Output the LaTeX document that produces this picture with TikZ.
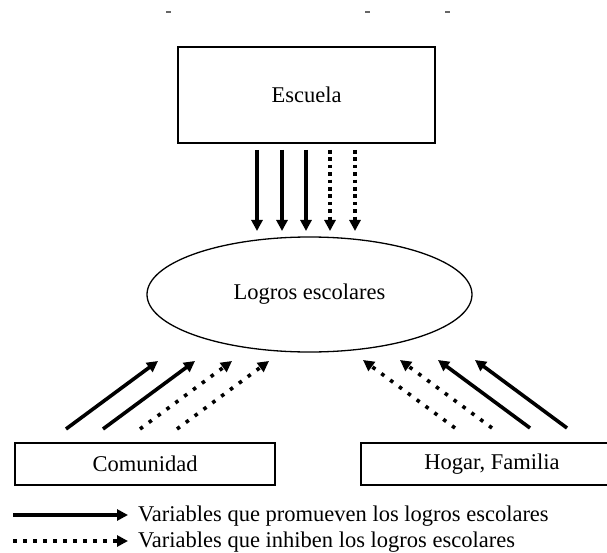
\documentclass[tikz,border=0pt]{standalone}
\usepackage{fontspec}
\setmainfont{Liberation Serif}
\usetikzlibrary{arrows.meta,shapes.geometric}
\tikzset{
  x=1pt,y=-1pt,
  txt/.style={font=\fontsize{22.5}{24}\selectfont},
  box/.style={draw,line width=1.5pt,inner sep=0pt,txt},
  head/.style={-{Triangle[length=11pt,width=11pt]}},
  promo/.style={line width=3.6pt,head},
  inhibv/.style={line width=3.6pt,dash pattern=on 3.6pt off 3.8pt,head},
  inhibd/.style={line width=3.6pt,dash pattern=on 3.6pt off 7.4pt,head},
  lbl/.style={txt,anchor=base west,inner sep=0pt},
  tick/.style={line width=1.6pt,black!60}
}
\begin{document}
\begin{tikzpicture}
\useasboundingbox (0,0) rectangle (607,553);
% remnants at top
\draw[tick] (166,12) -- (171,12);
\draw[tick] (365,12) -- (370,12);
\draw[tick] (445,12) -- (450,12);
% nodes
\node[box,minimum width=257pt,minimum height=96pt] (esc) at (306.5,95) {Escuela};
\node[draw,ellipse,line width=1.3pt,minimum width=325pt,minimum height=115pt,inner sep=0pt,txt] (log) at (309.5,294.5) {Logros escolares};
\node[box,minimum width=260pt,minimum height=42pt] (com) at (145,464) {Comunidad};
\node[box,minimum width=270pt,minimum height=42pt,anchor=west] (hog) at (360,464) {};
\node[txt,inner sep=0pt] (hogt) at (492,464) {Hogar, Familia};
% vertical arrows
\foreach \i/\x in {1/257,2/282,3/306,4/330,5/355}{
  \coordinate (d\i s) at (\x,150);
  \coordinate (d\i e) at (\x,231);
}
\draw[promo] (d1s) -- (d1e);
\draw[promo] (d2s) -- (d2e);
\draw[promo] (d3s) -- (d3e);
\draw[inhibv] (d4s) -- (d4e);
\draw[inhibv] (d5s) -- (d5e);
% left arrows
\foreach \i/\x in {1/66,2/103,3/140,4/177}{
  \coordinate (l\i s) at (\x,429);
  \coordinate (l\i e) at ({\x+92},361);
}
\draw[promo] (l1s) -- (l1e);
\draw[promo] (l2s) -- (l2e);
\draw[inhibd] (l3s) -- (l3e);
\draw[inhibd] (l4s) -- (l4e);
% right arrows
\foreach \i/\x in {1/455,2/492,3/530,4/567}{
  \coordinate (r\i s) at (\x,428);
  \coordinate (r\i e) at ({\x-92},360);
}
\draw[inhibd] (r1s) -- (r1e);
\draw[inhibd] (r2s) -- (r2e);
\draw[promo] (r3s) -- (r3e);
\draw[promo] (r4s) -- (r4e);
% legend
\coordinate (a1s) at (13,515);
\coordinate (a1e) at (128,515);
\coordinate (a2s) at (13,541);
\coordinate (a2e) at (128,541);
\draw[promo] (a1s) -- (a1e);
\draw[line width=3.6pt,dash pattern=on 4pt off 6pt,head] (a2s) -- (a2e);
\node[lbl] (t1) at (138,521.5) {Variables que promueven los logros escolares};
\node[lbl] (t2) at (138,547.5) {Variables que inhiben los logros escolares};
\end{tikzpicture}
\end{document}
